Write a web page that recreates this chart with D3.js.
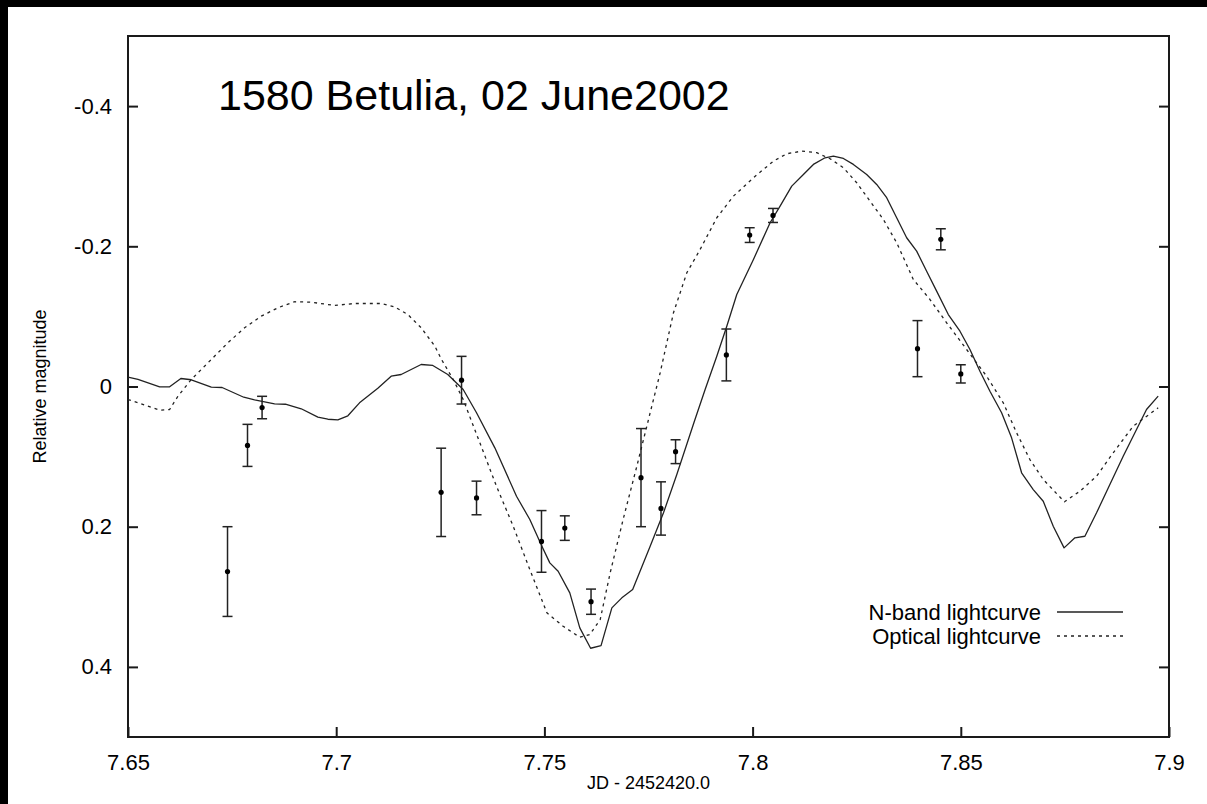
<!DOCTYPE html>
<meta charset="utf-8">
<style>

html, body {
  margin: 0;
  padding: 0;
  width: 1207px;
  height: 804px;
  overflow: hidden;
  background: #fff;
}

svg {
  display: block;
  font-family: "Liberation Sans", Arial, sans-serif;
}

.frame {
  fill: none;
  stroke: #1a1a1a;
  stroke-width: 2px;
}

.tick line {
  stroke: #1a1a1a;
  stroke-width: 2px;
}

.curve {
  fill: none;
  stroke: #222;
  stroke-width: 1.3px;
  stroke-linejoin: round;
}

.curve.optical {
  stroke-dasharray: 3,4;
}

.errbar line {
  stroke: #222;
  stroke-width: 1.5px;
}

</style>
<svg id="chart"></svg>
<script src="https://d3js.org/d3.v7.min.js"></script>
<script>

// N-band model lightcurve (JD - 2452420.0, relative magnitude)
var nbandJD = [7.6500, 7.6524, 7.6576, 7.6600, 7.6627, 7.6652, 7.6700, 7.6726, 7.6778, 7.6804,
  7.6852, 7.6878, 7.6916, 7.6956, 7.6980, 7.7004, 7.7028, 7.7056, 7.7100, 7.7132,
  7.7156, 7.7204, 7.7232, 7.7268, 7.7305, 7.7337, 7.7381, 7.7433, 7.7465, 7.7494,
  7.7513, 7.7533, 7.7561, 7.7585, 7.7611, 7.7636, 7.7662, 7.7686, 7.7712, 7.7754,
  7.7786, 7.7818, 7.7860, 7.7886, 7.7914, 7.7938, 7.7962, 7.8002, 7.8042, 7.8066,
  7.8094, 7.8122, 7.8146, 7.8174, 7.8194, 7.8218, 7.8242, 7.8274, 7.8298, 7.8322,
  7.8346, 7.8370, 7.8394, 7.8418, 7.8442, 7.8470, 7.8498, 7.8522, 7.8546, 7.8570,
  7.8598, 7.8622, 7.8646, 7.8674, 7.8698, 7.8722, 7.8748, 7.8774, 7.8798, 7.8826,
  7.8858, 7.8890, 7.8922, 7.8946, 7.8974];
var nbandMag = [-0.0133, -0.0100, 0.0004, 0.0004, -0.0114, -0.0096, 0.0010, 0.0014, 0.0153, 0.0190,
  0.0247, 0.0253, 0.0318, 0.0438, 0.0467, 0.0475, 0.0418, 0.0233, 0.0024, -0.0147,
  -0.0171, -0.0314, -0.0300, -0.0171, 0.0043, 0.0375, 0.0875, 0.1565, 0.1898, 0.2279,
  0.2516, 0.2636, 0.2944, 0.3443, 0.3734, 0.3696, 0.3158, 0.3015, 0.2897, 0.2279,
  0.1802, 0.1256, 0.0500, 0.0043, -0.0432, -0.0860, -0.1313, -0.1812, -0.2336, -0.2573,
  -0.2858, -0.3025, -0.3168, -0.3263, -0.3286, -0.3253, -0.3168, -0.3025, -0.2882, -0.2693,
  -0.2407, -0.2122, -0.1931, -0.1645, -0.1360, -0.1027, -0.0789, -0.0528, -0.0218, 0.0067,
  0.0375, 0.0732, 0.1231, 0.1470, 0.1637, 0.1993, 0.2302, 0.2159, 0.2136, 0.1802,
  0.1398, 0.0995, 0.0614, 0.0328, 0.0138];

// optical lightcurve
var opticalJD = [7.6500, 7.6524, 7.6576, 7.6600, 7.6620, 7.6652, 7.6692, 7.6740, 7.6780, 7.6820,
  7.6860, 7.6900, 7.6940, 7.6996, 7.7044, 7.7108, 7.7140, 7.7172, 7.7204, 7.7237,
  7.7253, 7.7281, 7.7305, 7.7345, 7.7385, 7.7425, 7.7465, 7.7506, 7.7545, 7.7585,
  7.7609, 7.7634, 7.7658, 7.7689, 7.7722, 7.7754, 7.7778, 7.7810, 7.7842, 7.7874,
  7.7914, 7.7954, 7.8002, 7.8050, 7.8082, 7.8118, 7.8154, 7.8186, 7.8218, 7.8250,
  7.8282, 7.8314, 7.8346, 7.8386, 7.8426, 7.8466, 7.8514, 7.8562, 7.8602, 7.8634,
  7.8666, 7.8698, 7.8749, 7.8786, 7.8826, 7.8866, 7.8914, 7.8974];
var opticalMag = [0.0186, 0.0233, 0.0338, 0.0328, 0.0138, -0.0100, -0.0338, -0.0624, -0.0838, -0.1003,
  -0.1123, -0.1209, -0.1203, -0.1156, -0.1184, -0.1184, -0.1137, -0.1027, -0.0838, -0.0575,
  -0.0385, -0.0100, 0.0186, 0.0803, 0.1423, 0.1993, 0.2611, 0.3229, 0.3420, 0.3577,
  0.3539, 0.3325, 0.2658, 0.1898, 0.1137, 0.0375, -0.0196, -0.1052, -0.1622, -0.1955,
  -0.2407, -0.2716, -0.2978, -0.3215, -0.3320, -0.3358, -0.3335, -0.3249, -0.3121, -0.2907,
  -0.2644, -0.2383, -0.2051, -0.1527, -0.1241, -0.0909, -0.0528, -0.0147, 0.0233, 0.0661,
  0.1042, 0.1327, 0.1645, 0.1494, 0.1280, 0.0946, 0.0566, 0.0304];

// N-band observations with 1-sigma errors
var obsJD = [7.6739, 7.6787, 7.6822, 7.7252, 7.7301, 7.7337, 7.7493, 7.7549, 7.7612,
  7.7732, 7.7780, 7.7815, 7.7937, 7.7993, 7.8049, 7.8396, 7.8452, 7.8500];
var obsMag = [0.264, 0.084, 0.030, 0.151, -0.009, 0.159, 0.221, 0.202, 0.307,
  0.130, 0.174, 0.093, -0.045, -0.216, -0.244, -0.054, -0.210, -0.018];
var obsErr = [0.064, 0.030, 0.016, 0.063, 0.034, 0.024, 0.044, 0.0175, 0.018,
  0.070, 0.038, 0.017, 0.037, 0.0105, 0.010, 0.040, 0.015, 0.013];

var xTicks = [7.65, 7.7, 7.75, 7.8, 7.85, 7.9];
var yTicks = [-0.4, -0.2, 0, 0.2, 0.4];

var legendLabels = ['N-band lightcurve', 'Optical lightcurve'];

var width = 1207;
var height = 804;
var margin = {left: 128, right: 38, top: 36, bottom: 67};
var innerW = width - margin.left - margin.right;
var innerH = height - margin.top - margin.bottom;

var svg = d3.select('#chart')
  .attr('width', width)
  .attr('height', height);

// black strips on the left and top edges of the scan
svg.append('rect').attr('width', 8).attr('height', height).attr('fill', '#000');
svg.append('rect').attr('width', width).attr('height', 7).attr('fill', '#000');

var g = svg.append('g')
  .attr('transform', 'translate(' + margin.left + ',' + margin.top + ')');

var x = d3.scaleLinear().domain([7.65, 7.9]).range([0, innerW]);
var y = d3.scaleLinear().domain([-0.5, 0.5]).range([0, innerH]);

var fmt = function (d) { return d === 0 ? '0' : String(d); };

// axes, ticks pointing inward
var xAxis = g.append('g')
  .attr('transform', 'translate(0,' + innerH + ')')
  .call(d3.axisBottom(x).tickValues(xTicks).tickSize(-10).tickPadding(17).tickFormat(fmt));

var yAxis = g.append('g')
  .call(d3.axisLeft(y).tickValues(yTicks).tickSize(-10).tickPadding(16).tickFormat(fmt));

var yAxisR = g.append('g')
  .attr('transform', 'translate(' + innerW + ',0)')
  .call(d3.axisRight(y).tickValues(yTicks).tickSize(-10).tickFormat(''));

[xAxis, yAxis, yAxisR].forEach(function (a) {
  a.select('.domain').remove();
  a.selectAll('.tick text')
    .attr('fill', '#000')
    .style('font-size', '22px');
});

g.append('rect')
  .attr('class', 'frame')
  .attr('width', innerW)
  .attr('height', innerH);

var line = d3.line()
  .x(function (d) { return x(d[0]); })
  .y(function (d) { return y(d[1]); });

g.append('path')
  .attr('class', 'curve nband')
  .attr('d', line(d3.zip(nbandJD, nbandMag)));

g.append('path')
  .attr('class', 'curve optical')
  .attr('d', line(d3.zip(opticalJD, opticalMag)));

var obs = obsJD.map(function (v, i) { return {jd: v, mag: obsMag[i], err: obsErr[i]}; });

var bar = g.selectAll('g.errbar')
  .data(obs)
  .enter().append('g')
  .attr('class', 'errbar');

bar.append('line')
  .attr('x1', function (d) { return x(d.jd); })
  .attr('x2', function (d) { return x(d.jd); })
  .attr('y1', function (d) { return y(d.mag - d.err); })
  .attr('y2', function (d) { return y(d.mag + d.err); });

bar.append('line')
  .attr('x1', function (d) { return x(d.jd) - 5; })
  .attr('x2', function (d) { return x(d.jd) + 5; })
  .attr('y1', function (d) { return y(d.mag - d.err); })
  .attr('y2', function (d) { return y(d.mag - d.err); });

bar.append('line')
  .attr('x1', function (d) { return x(d.jd) - 5; })
  .attr('x2', function (d) { return x(d.jd) + 5; })
  .attr('y1', function (d) { return y(d.mag + d.err); })
  .attr('y2', function (d) { return y(d.mag + d.err); });

bar.append('circle')
  .attr('cx', function (d) { return x(d.jd); })
  .attr('cy', function (d) { return y(d.mag); })
  .attr('r', 2.6)
  .attr('fill', '#000');

// legend
var legend = g.append('g')
  .attr('transform', 'translate(' + (innerW - 128) + ',' + (innerH - 125) + ')');

legendLabels.forEach(function (label, i) {
  legend.append('text')
    .attr('x', 0)
    .attr('y', i * 24)
    .attr('dy', '0.35em')
    .attr('text-anchor', 'end')
    .style('font-size', '22px')
    .text(label);
  legend.append('line')
    .attr('class', i === 0 ? 'curve nband' : 'curve optical')
    .attr('x1', 16)
    .attr('x2', 82)
    .attr('y1', i * 24)
    .attr('y2', i * 24);
});

// title and axis labels
g.append('text')
  .attr('x', 90)
  .attr('y', 74)
  .style('font-size', '43px')
  .text('1580 Betulia, 02 June2002');

svg.append('text')
  .attr('transform', 'translate(46,' + (margin.top + innerH / 2) + ') rotate(-90)')
  .attr('text-anchor', 'middle')
  .style('font-size', '18px')
  .text('Relative magnitude');

svg.append('text')
  .attr('x', margin.left + innerW / 2)
  .attr('y', 789)
  .attr('text-anchor', 'middle')
  .style('font-size', '18px')
  .text('JD - 2452420.0');

</script>
